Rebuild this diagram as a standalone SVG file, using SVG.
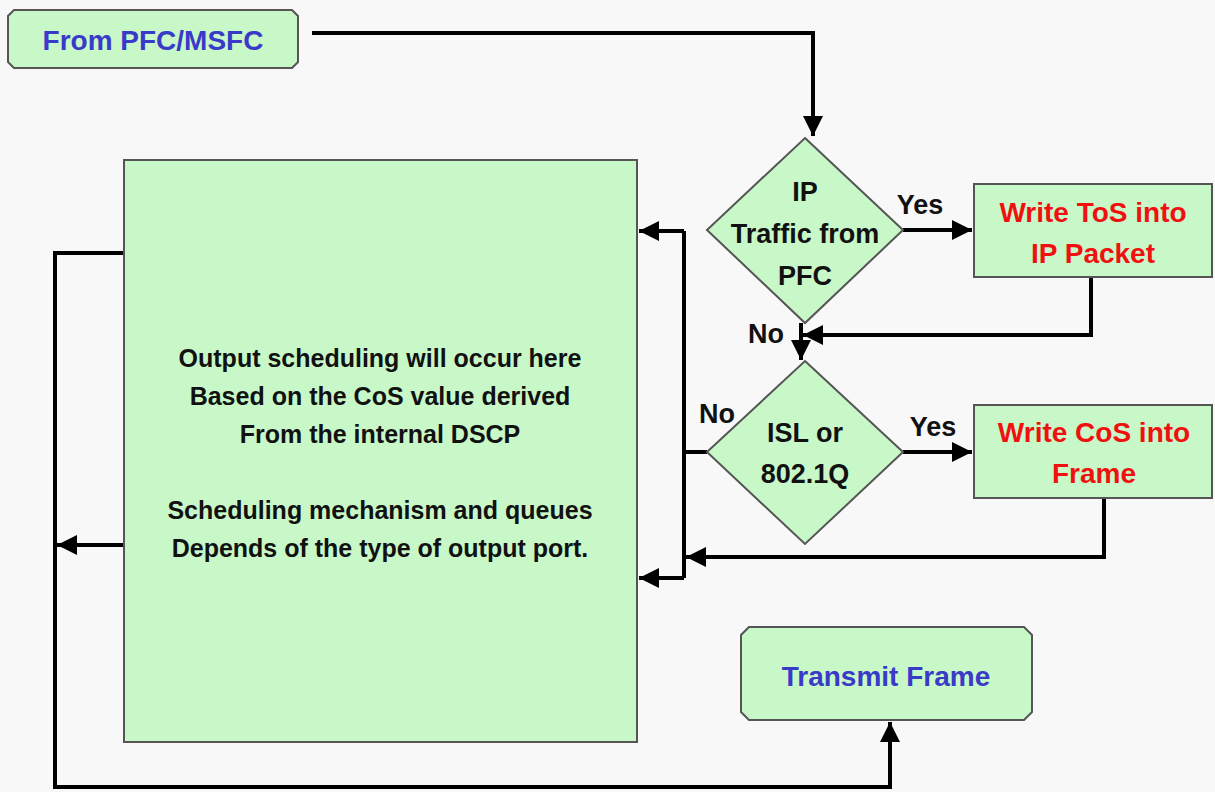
<svg xmlns="http://www.w3.org/2000/svg" width="1215" height="792" viewBox="0 0 1215 792">
<style>
.bg{fill:#f8f8f8}
.box{fill:#c8f8c8;stroke:#555;stroke-width:2}
.t{font-family:"Liberation Sans",Arial,sans-serif;font-weight:bold;text-anchor:middle}
.blue{fill:#3a3ac8;font-size:28px}
.red{fill:#f01010;font-size:28px}
.blk{fill:#111;font-size:27px}
.body{fill:#111;font-size:25px}
.ln{fill:none;stroke:#000;stroke-width:4}
</style>
<defs>
<marker id="ah" viewBox="0 0 10 10" refX="10" refY="5" markerWidth="5.5" markerHeight="5" markerUnits="strokeWidth" orient="auto">
<path d="M0,0 L10,5 L0,10 z" fill="#000"/>
</marker>
</defs>
<rect class="bg" x="0" y="0" width="1215" height="792"/>
<g id="connectors">
<path class="ln" d="M312,33 H813 V136" marker-end="url(#ah)"/>
<path class="ln" d="M903,230 H972" marker-end="url(#ah)"/>
<path class="ln" d="M1091,277 V335 H803" marker-end="url(#ah)"/>
<path class="ln" d="M801,323 V360" marker-end="url(#ah)"/>
<path class="ln" d="M903,452 H972" marker-end="url(#ah)"/>
<path class="ln" d="M1104,498 V557 H686" marker-end="url(#ah)"/>
<path class="ln" d="M707,452 H684"/>
<path class="ln" d="M684,231 V578"/>
<path class="ln" d="M684,231 H639" marker-end="url(#ah)"/>
<path class="ln" d="M684,578 H639" marker-end="url(#ah)"/>
<path class="ln" d="M124,253 H55 V787 H890 V722" marker-end="url(#ah)"/>
<path class="ln" d="M124,545 H57" marker-end="url(#ah)"/>
<text class="t blk" x="920" y="214">Yes</text>
<text class="t blk" x="933" y="436">Yes</text>
<text class="t blk" x="766" y="343">No</text>
<text class="t blk" x="717" y="423">No</text>
</g>
<g id="from">
<path class="box" d="M14,10 H292 L298,16 V62 L292,68 H14 L8,62 V16 Z"/>
<text class="t blue" x="153" y="50">From PFC/MSFC</text>
</g>
<g id="ipDecision">
<polygon class="box" points="805,138 903,230 805,323 707,230"/>
<text class="t blk" x="805" y="201">IP</text>
<text class="t blk" x="805" y="243">Traffic from</text>
<text class="t blk" x="805" y="285">PFC</text>
</g>
<g id="writeTos">
<rect class="box" x="974" y="184" width="238" height="93"/>
<text class="t red" x="1093" y="222">Write ToS into</text>
<text class="t red" x="1093" y="263">IP Packet</text>
</g>
<g id="islDecision">
<polygon class="box" points="805,361 903,452 805,544 707,452"/>
<text class="t blk" x="805" y="442">ISL or</text>
<text class="t blk" x="805" y="483">802.1Q</text>
</g>
<g id="writeCos">
<rect class="box" x="974" y="405" width="238" height="93"/>
<text class="t red" x="1094" y="442">Write CoS into</text>
<text class="t red" x="1094" y="483">Frame</text>
</g>
<g id="scheduler">
<rect class="box" x="124" y="160" width="513" height="582"/>
<text class="t body" x="380" y="367">Output scheduling will occur here</text>
<text class="t body" x="380" y="405">Based on the CoS value derived</text>
<text class="t body" x="380" y="443">From the internal DSCP</text>
<text class="t body" x="380" y="519">Scheduling mechanism and queues</text>
<text class="t body" x="380" y="557">Depends of the type of output port.</text>
</g>
<g id="transmit">
<path class="box" d="M749,627 H1024 L1032,635 V712 L1024,720 H749 L741,712 V635 Z"/>
<text class="t blue" x="886" y="686">Transmit Frame</text>
</g>
</svg>
